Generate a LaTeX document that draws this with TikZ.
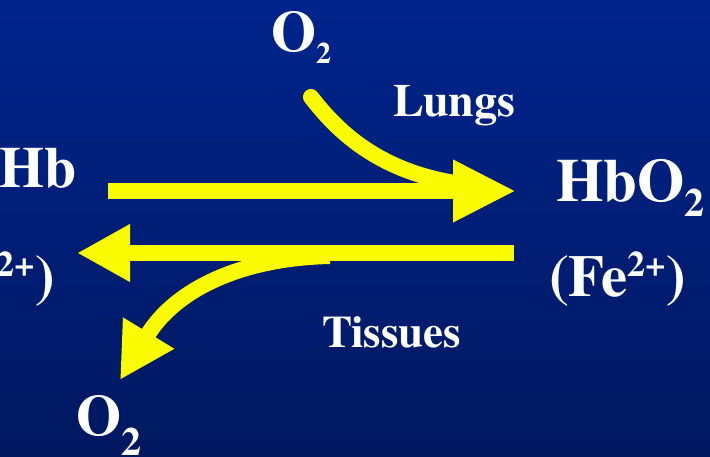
\documentclass[tikz,border=0pt]{standalone}
\usepackage{fontspec}
\setmainfont{texgyretermes}[Extension=.otf, UprightFont=*-regular, BoldFont=*-bold]
\usetikzlibrary{arrows.meta}
\definecolor{bgtop}{RGB}{0,36,140}
\definecolor{bgbot}{RGB}{0,24,96}
\definecolor{arrowyellow}{RGB}{250,250,0}
\newcommand\mysub[3]{\raisebox{#1}{\fontsize{#2}{#2}\selectfont #3}}
\newcommand\fs[1]{\fontsize{#1}{#1}\selectfont}
\tikzset{
  lbl/.style={text=white, font=\rmfamily\bfseries, inner sep=0pt, outer sep=0pt, anchor=base west},
  shaft/.style={draw=arrowyellow, line width=16pt},
  curvy/.style={draw=arrowyellow, line width=16pt},
}
\begin{document}
\begin{tikzpicture}[x=1pt,y=-1pt]
\useasboundingbox (0,0) rectangle (710,457);
\shade[top color=bgtop, bottom color=bgbot] (0,0) rectangle (710,457);

% labels
\node[lbl] (o2top) at (271,52) {\fs{58}O\mysub{-12pt}{30}{2}};
\node[lbl] (lungs) at (393,117) {\fs{46}Lungs};
\node[lbl] (hb) at (-1,188) {\fs{58}Hb};
\node[lbl] (hbo2) at (556,202) {\fs{61}HbO\mysub{-15pt}{40}{2}};
\node[lbl] (feR) at (549,297) {\fs{59}(Fe\mysub{20pt}{36}{2+})};
\node[lbl, anchor=base east] (feL) at (55,297) {\fs{59}(Fe\mysub{20pt}{36}{2+})};
\node[lbl] (tissues) at (322,347) {\fs{45}Tissues};
\node[lbl] (o2bot) at (76,435) {\fs{58}O\mysub{-20pt}{40}{2}};

% connector end points
\coordinate (fwdS) at (108,191);
\coordinate (fwdE) at (516,191);
\coordinate (bwdS) at (514,253);
\coordinate (bwdE) at (77,253);
\coordinate (lungS) at (311,97);
\coordinate (lungE) at (455,183);
\coordinate (tisS) at (330,256);
\coordinate (tisE) at (120,380);

% forward (Hb -> HbO2)
\draw[shaft, -{Triangle[length=63pt,width=58pt]}, arrowyellow] (fwdS) -- (fwdE);
% backward (HbO2 -> Hb)
\draw[shaft, -{Triangle[length=53pt,width=54pt]}, arrowyellow] (bwdS) -- (bwdE);
% O2 entering in the lungs
\draw[curvy, line cap=round] (lungS) .. controls (335,128) and (375,170) .. (lungE);
% O2 leaving in the tissues
\draw[curvy, -{Triangle[length=55pt,width=56pt]}, arrowyellow] (tisS) .. controls (240,258) and (175,290) .. (tisE);
\end{tikzpicture}
\end{document}
